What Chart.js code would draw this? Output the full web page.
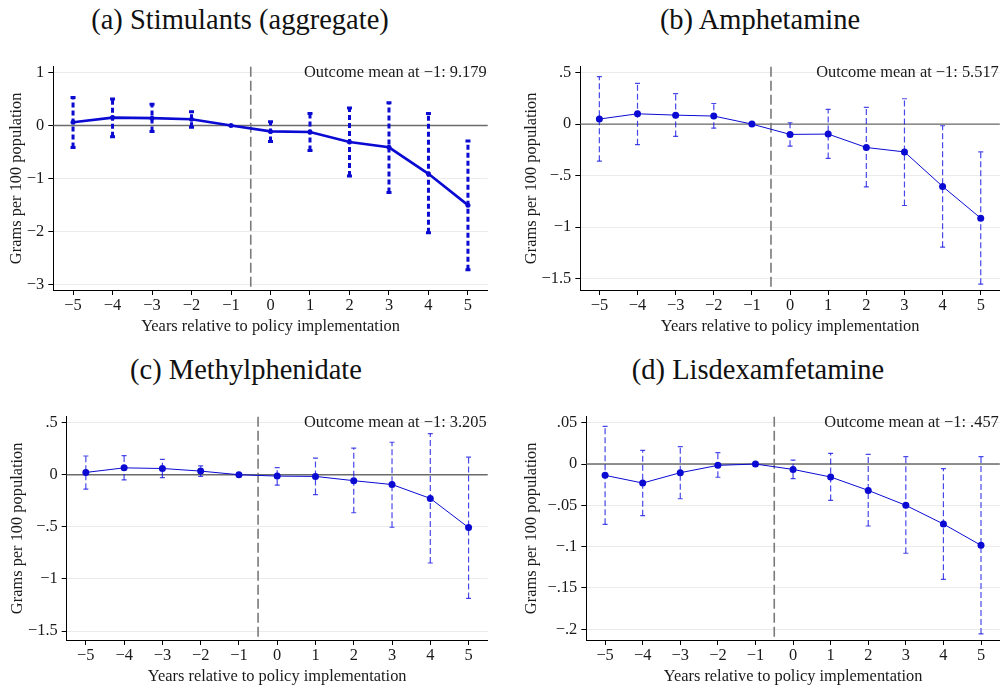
<!DOCTYPE html>
<html>
<head>
<meta charset="utf-8">
<script src="https://cdn.jsdelivr.net/npm/chart.js@4.4.1/dist/chart.umd.min.js"></script>
<style>
  body { margin: 0; background: #fff; width: 1005px; height: 688px; overflow: hidden; position: relative; }
  canvas { position: absolute; }
  .titulo { position: absolute; width: 440px; text-align: center; font-family: "Liberation Serif", serif; font-size: 28.5px; color: #111; line-height: 1; white-space: nowrap; }
</style>
</head>
<body>
<div class="titulo" style="left:20px;top:6px">(a) Stimulants (aggregate)</div>
<div class="titulo" style="left:540px;top:6px">(b) Amphetamine</div>
<div class="titulo" style="left:26px;top:356px">(c) Methylphenidate</div>
<div class="titulo" style="left:538px;top:356px">(d) Lisdexamfetamine</div>

<canvas id="gA" width="500" height="300" style="left:0;top:40px"></canvas>
<canvas id="gB" width="505" height="300" style="left:500px;top:40px"></canvas>
<canvas id="gC" width="500" height="300" style="left:0;top:390px"></canvas>
<canvas id="gD" width="505" height="300" style="left:500px;top:390px"></canvas>

<script>
// anos relativos a implementacao
const anos = [-5, -4, -3, -2, -1, 0, 1, 2, 3, 4, 5];

// (a) estimulantes agregado
const estA = [0.063, 0.15, 0.14, 0.12, 0, -0.11, -0.12, -0.31, -0.41, -0.91, -1.50];
const infA = [-0.415, -0.21, -0.11, -0.03, null, -0.30, -0.47, -0.95, -1.26, -2.02, -2.72];
const supA = [0.53, 0.50, 0.40, 0.26, null, 0.07, 0.23, 0.33, 0.43, 0.23, -0.29];
const ticksA = [1, 0, -1, -2, -3];

// (b) anfetamina
const estB = [0.049, 0.10, 0.087, 0.078, 0, -0.10, -0.097, -0.227, -0.27, -0.605, -0.913];
const infB = [-0.36, -0.20, -0.12, -0.04, null, -0.214, -0.333, -0.61, -0.79, -1.194, -1.553];
const supB = [0.46, 0.395, 0.295, 0.20, null, 0.013, 0.142, 0.162, 0.246, -0.016, -0.27];
const ticksB = [0.5, 0, -0.5, -1, -1.5];

// (c) metilfenidato
const estC = [0.022, 0.066, 0.06, 0.035, 0, -0.013, -0.016, -0.057, -0.094, -0.227, -0.507];
const infC = [-0.139, -0.05, -0.028, -0.016, null, -0.10, -0.19, -0.365, -0.504, -0.847, -1.187];
const supC = [0.18, 0.183, 0.148, 0.085, null, 0.069, 0.16, 0.255, 0.312, 0.394, 0.17];
const ticksC = [0.5, 0, -0.5, -1, -1.5];

// (d) lisdexanfetamina
const estD = [-0.0137, -0.023, -0.0105, -0.0016, 0, -0.0065, -0.0157, -0.0319, -0.05, -0.0726, -0.0984];
const infD = [-0.073, -0.0625, -0.042, -0.016, null, -0.0177, -0.044, -0.075, -0.108, -0.1395, -0.2056];
const supD = [0.0456, 0.0165, 0.021, 0.0137, null, 0.0048, 0.013, 0.0117, 0.0089, -0.0056, 0.0089];
const ticksD = [0.05, 0, -0.05, -0.1, -0.15, -0.2];

const medias = ["9.179", "5.517", "3.205", ".457"];
const linhaPolitica = -0.5;

const azul = "#0a0ad2";
const azulBarra = "rgba(20, 20, 225, 0.78)";
const fonte = { family: "Liberation Serif", size: 16.4 };
const corTexto = "#1a1a1a";

function formatar(v) {
  let s = String(+Number(v).toFixed(4));
  if (s.startsWith("0.")) s = s.slice(1);
  if (s.startsWith("-0.")) s = "-" + s.slice(2);
  return s.replace("-", "\u2212");
}

// linha do zero, linha vertical tracejada e texto da media
const linhasRef = {
  id: "linhasRef",
  beforeDatasetsDraw(chart) {
    const { ctx, chartArea, scales } = chart;
    const y0 = scales.y.getPixelForValue(0);
    const xv = scales.x.getPixelForValue(linhaPolitica);
    ctx.save();
    ctx.strokeStyle = "#6b6b6b";
    ctx.lineWidth = 1.4;
    ctx.beginPath();
    ctx.moveTo(chartArea.left, y0);
    ctx.lineTo(chartArea.right, y0);
    ctx.stroke();
    ctx.strokeStyle = "#7a7a7a";
    ctx.lineWidth = 1.6;
    ctx.setLineDash([10, 4]);
    ctx.beginPath();
    ctx.moveTo(xv, chartArea.top);
    ctx.lineTo(xv, chartArea.bottom);
    ctx.stroke();
    ctx.restore();
  },
  afterDraw(chart, args, opts) {
    const { ctx, chartArea } = chart;
    ctx.save();
    ctx.font = "16.4px 'Liberation Serif'";
    ctx.fillStyle = corTexto;
    ctx.textAlign = "right";
    ctx.textBaseline = "middle";
    ctx.fillText("Outcome mean at \u22121: " + opts.texto, chartArea.right - 1, chartArea.top + 6);
    ctx.restore();
  }
};

function criarPainel(id, est, inf, sup, yTicks, yMin, yMax, media, cfg) {
  const barras = [];
  anos.forEach((x, i) => {
    if (inf[i] === null) return;
    barras.push({ x: x, y: inf[i] }, { x: x, y: sup[i] }, { x: x, y: null });
  });

  new Chart(document.getElementById(id), {
    type: "line",
    data: {
      datasets: [
        {
          data: anos.map((x, i) => ({ x: x, y: est[i] })),
          borderColor: azul,
          backgroundColor: azul,
          pointBackgroundColor: azul,
          borderWidth: cfg.grosso ? 2.6 : 1,
          pointRadius: cfg.grosso ? 2.5 : 3.5,
          pointBorderWidth: 0,
          tension: 0
        },
        {
          data: barras,
          borderColor: cfg.grosso ? azul : azulBarra,
          borderWidth: cfg.grosso ? 3 : 1.2,
          borderDash: cfg.grosso ? [5, 3] : [6, 3],
          pointStyle: "line",
          pointRadius: 2.5,
          pointBorderColor: cfg.grosso ? azul : azulBarra,
          pointBorderWidth: cfg.grosso ? 3 : 1.2,
          spanGaps: false
        }
      ]
    },
    options: {
      responsive: false,
      animation: false,
      events: [],
      layout: { padding: { top: 26.7, right: cfg.dir, left: 0, bottom: 0 } },
      plugins: {
        legend: { display: false },
        tooltip: { enabled: false },
        linhasRef: { texto: media }
      },
      scales: {
        x: {
          type: "linear",
          min: -5.5,
          max: 5.5,
          afterBuildTicks: s => { s.ticks = anos.map(v => ({ value: v })); },
          afterFit: s => { s.height = 50; },
          grid: { drawOnChartArea: false, tickLength: 5, tickColor: "#000" },
          border: { color: "#000", width: 1 },
          ticks: { font: fonte, color: corTexto, padding: 1, maxRotation: 0, callback: v => formatar(v) },
          title: { display: true, text: "Years relative to policy implementation", font: fonte, color: corTexto, padding: { top: 0, bottom: 3.5 } }
        },
        y: {
          type: "linear",
          min: yMin,
          max: yMax,
          afterBuildTicks: s => { s.ticks = yTicks.map(v => ({ value: v })); },
          afterFit: s => { s.width = cfg.eixoY; },
          grid: { color: "#ebebeb", tickLength: 5, tickColor: "#000" },
          border: { color: "#000", width: 1 },
          ticks: { font: fonte, color: corTexto, padding: 4, callback: v => formatar(v) },
          title: { display: true, text: "Grams per 100 population", font: fonte, color: corTexto, padding: { top: cfg.tituloY, bottom: 0 } }
        }
      }
    },
    plugins: [linhasRef]
  });
}

criarPainel("gA", estA, infA, supA, ticksA, -3.1, 1.11, medias[0], { grosso: true, eixoY: 53.3, dir: 12.3, tituloY: 7.2 });
criarPainel("gB", estB, infB, supB, ticksB, -1.61, 0.557, medias[1], { grosso: false, eixoY: 80.3, dir: 3.3, tituloY: 21.9 });
criarPainel("gC", estC, infC, supC, ticksC, -1.586, 0.557, medias[2], { grosso: false, eixoY: 66.7, dir: 12.3, tituloY: 8.2 });
criarPainel("gD", estD, infD, supD, ticksD, -0.213, 0.0573, medias[3], { grosso: false, eixoY: 86.3, dir: 3.3, tituloY: 21.9 });
</script>
</body>
</html>
